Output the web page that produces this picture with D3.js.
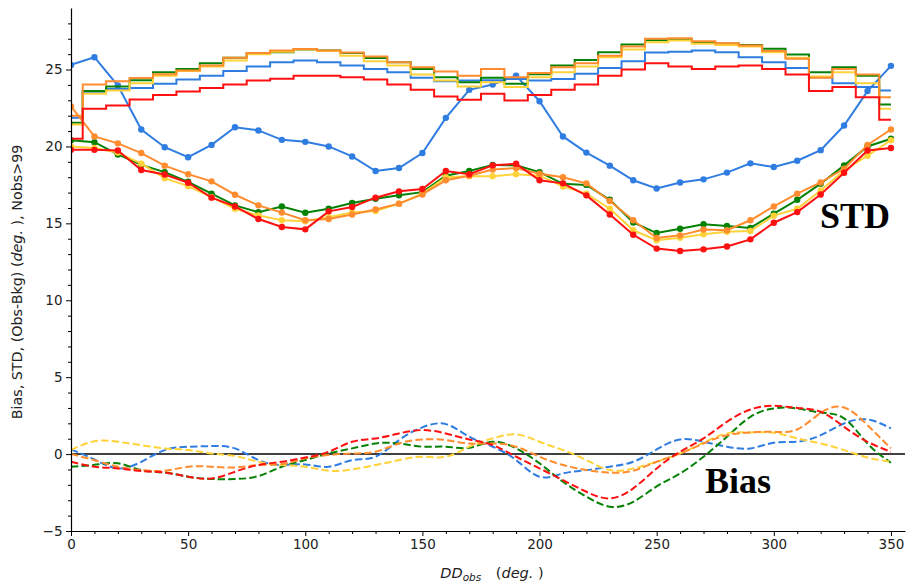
<!DOCTYPE html>
<html>
<head>
<meta charset="utf-8">
<script src="https://cdn.jsdelivr.net/npm/d3@7"></script>
<style>
  html, body { margin: 0; padding: 0; background: #fff; }
</style>
</head>
<body>
<script>
// ---------------- data ----------------
const directions = [0,10,20,30,40,50,60,70,80,90,100,110,120,130,140,150,160,170,180,190,200,210,220,230,240,250,260,270,280,290,300,310,320,330,340,350];

const seriesNames = ["blue", "green", "yellow", "orange", "red"];
const seriesColors = ["#2f7de1", "#058205", "#ffd23a", "#ff8c2e", "#ff1010"];

// STD (line with markers)
const stdBlue   = [25.3,25.8,23.96,21.1,19.95,19.3,20.1,21.25,21.04,20.43,20.3,20.0,19.35,18.4,18.6,19.57,21.86,23.68,24.03,24.6,22.94,20.65,19.6,18.75,17.8,17.27,17.66,17.86,18.3,18.9,18.66,19.07,19.76,21.36,23.6,25.24];
const stdGreen  = [20.4,20.28,19.48,18.8,18.33,17.7,16.93,16.17,15.73,16.1,15.69,15.95,16.32,16.6,16.82,17.03,18.1,18.4,18.8,18.77,18.33,17.57,17.5,16.53,15.06,14.37,14.65,14.94,14.83,14.7,15.63,16.53,17.58,18.77,20.0,20.5];
const stdYellow = [20.0,19.9,19.6,18.88,17.94,17.42,16.7,15.95,15.52,15.2,15.13,15.4,15.7,15.8,16.28,16.93,18.0,18.07,18.07,18.2,18.1,17.4,16.93,15.95,14.55,13.9,14.07,14.29,14.45,14.5,15.5,15.95,17.14,18.44,19.4,20.4];
const stdOrange = [22.6,20.65,20.2,19.57,18.75,18.2,17.73,16.86,16.17,15.7,15.2,15.28,15.58,15.9,16.28,16.88,17.8,18.1,18.5,18.6,18.22,18.0,17.6,16.45,15.2,14.05,14.22,14.6,14.55,15.2,16.1,16.93,17.66,18.55,20.1,21.1];
const stdRed    = [19.78,19.78,19.74,18.47,18.18,17.64,16.67,16.1,15.28,14.76,14.61,15.78,16.06,16.67,17.08,17.23,18.4,18.2,18.77,18.87,17.8,17.6,16.82,15.58,14.26,13.36,13.2,13.31,13.5,13.96,15.04,15.73,16.88,18.29,19.74,19.9];

// Nobs (scaled, step lines)
const nobsBlue   = [21.86,23.55,23.74,23.8,24.07,24.35,24.6,24.9,25.2,25.47,25.58,25.47,25.26,25.04,24.82,24.46,24.24,24.29,24.3,24.39,24.29,24.39,24.72,25.1,25.54,26.1,26.15,26.23,26.13,25.8,25.47,25.1,24.5,24.11,23.86,23.64];
const nobsGreen  = [21.54,23.6,23.9,24.3,24.82,25.04,25.41,25.76,26.08,26.13,26.3,26.23,26.07,25.75,25.47,25.04,24.5,24.18,24.46,24.07,24.7,25.26,25.62,26.13,26.62,26.9,26.97,26.77,26.7,26.6,26.35,25.97,24.83,25.15,24.6,22.73];
const nobsYellow = [21.43,23.42,23.64,24.1,24.6,24.9,25.2,25.58,26.0,26.15,26.3,26.2,25.9,25.54,25.26,24.68,24.29,23.9,24.18,23.86,24.5,24.82,25.2,25.8,26.3,26.77,26.88,26.67,26.6,26.49,26.13,25.76,24.55,24.83,24.11,22.45];
const nobsOrange = [22.0,24.03,24.24,24.45,24.7,24.94,25.26,25.76,26.08,26.23,26.34,26.23,26.1,25.84,25.47,25.15,24.87,24.6,25.04,24.5,24.77,25.15,25.41,25.9,26.5,27.0,27.03,26.84,26.71,26.56,26.2,25.7,24.46,25.04,24.68,23.2];
const nobsRed    = [20.5,22.45,22.66,23.05,23.35,23.57,23.8,24.03,24.29,24.4,24.6,24.6,24.5,24.35,24.03,23.68,23.25,23.03,23.42,22.98,23.35,23.68,24.03,24.6,25.0,25.41,25.2,25.04,25.2,25.26,25.04,24.68,23.6,23.86,23.2,21.73];

// Bias (dashed, smooth)
const biasBlue   = [0.3,-0.35,-0.93,-0.5,0.26,0.48,0.52,0.37,-0.39,-0.71,-0.67,-0.82,-0.39,-0.17,0.91,1.74,1.95,1.13,0.48,-0.39,-1.47,-1.26,-1.04,-0.82,-0.5,0.3,0.95,0.8,0.48,0.37,0.74,0.8,1.23,1.99,2.25,1.67];
const biasGreen  = [-0.82,-0.7,-0.6,-1.04,-1.2,-1.47,-1.62,-1.62,-1.43,-0.82,-0.39,0.04,0.37,0.69,0.69,0.48,0.48,0.41,0.8,0.37,-0.6,-1.8,-2.77,-3.42,-3.1,-2.1,-1.26,-0.17,1.13,2.42,2.97,2.97,2.7,2.32,0.69,-0.56];
const biasYellow = [0.26,0.84,0.8,0.58,0.37,0.26,0.04,-0.13,-0.5,-0.71,-0.82,-1.08,-1.0,-0.71,-0.39,-0.17,-0.17,0.48,1.02,1.28,0.8,0.26,-0.39,-1.04,-0.93,-0.5,0.04,0.74,1.34,1.41,1.39,1.02,0.69,0.26,-0.22,-0.5];
const biasOrange = [0.0,-0.4,-0.82,-1.04,-1.08,-0.82,-0.82,-0.87,-0.71,-0.65,-0.28,-0.06,0.04,0.15,0.69,0.95,0.91,0.69,0.69,0.48,-0.17,-0.71,-1.04,-1.21,-1.08,-0.5,0.04,0.69,1.23,1.41,1.45,1.6,2.68,3.03,1.88,0.37];
const biasRed    = [-0.5,-0.82,-0.93,-1.1,-1.2,-1.47,-1.58,-1.15,-0.71,-0.5,-0.22,0.15,0.8,1.02,1.34,1.56,1.34,0.95,0.58,-0.17,-0.93,-1.69,-2.45,-2.88,-2.23,-0.93,0.15,1.02,2.1,2.9,3.14,3.0,2.75,1.77,0.8,0.15];

const xTicks = [0,50,100,150,200,250,300,350];
const yTicks = [-5,0,5,10,15,20,25];

// ---------------- chart ----------------
const W = 906, H = 584;
const SANS = "'DejaVu Sans', sans-serif";
const SERIF = "'Liberation Serif', 'Times New Roman', serif";
const svg = d3.select("body").append("svg").attr("width", W).attr("height", H);

const x = d3.scaleLinear().domain([0, 356]).range([71, 905]);
const y = d3.scaleLinear().domain([-5, 29]).range([531, 8]);

svg.append("defs").append("clipPath").attr("id", "clip")
  .append("rect").attr("x", 71).attr("y", 8).attr("width", 834).attr("height", 523);

const plot = svg.append("g").attr("clip-path", "url(#clip)");

// zero line
plot.append("line")
  .attr("x1", x(0)).attr("x2", x(356))
  .attr("y1", y(0)).attr("y2", y(0))
  .attr("stroke", "#000").attr("stroke-width", 1.5);

const stds = [stdBlue, stdGreen, stdYellow, stdOrange, stdRed];
const nobs = [nobsBlue, nobsGreen, nobsYellow, nobsOrange, nobsRed];
const biases = [biasBlue, biasGreen, biasYellow, biasOrange, biasRed];

const stepLine = d3.line().x((d, i) => x(directions[i])).y(d => y(d)).curve(d3.curveStep);
const lin = d3.line().x((d, i) => x(directions[i])).y(d => y(d));
const smooth = d3.line().x((d, i) => x(directions[i])).y(d => y(d)).curve(d3.curveNatural);

seriesNames.forEach((name, k) => {
  const c = seriesColors[k];
  const g = plot.append("g").attr("class", "series-" + name);
  g.append("path").datum(nobs[k]).attr("d", stepLine)
    .attr("fill", "none").attr("stroke", c).attr("stroke-width", 2);
  g.append("path").datum(stds[k]).attr("d", lin)
    .attr("fill", "none").attr("stroke", c).attr("stroke-width", 2);
  g.selectAll("circle").data(stds[k]).join("circle")
    .attr("cx", (d, i) => x(directions[i])).attr("cy", d => y(d))
    .attr("r", 3.2).attr("fill", c);
  g.append("path").datum(biases[k]).attr("d", smooth)
    .attr("fill", "none").attr("stroke", c).attr("stroke-width", 2)
    .attr("stroke-dasharray", "7.4,3.2");
});

// axes
const fmt = d => d < 0 ? "\u2212" + Math.abs(d) : String(d);
svg.append("g").attr("transform", "translate(71,0)")
  .call(d3.axisLeft(y).tickValues(yTicks).tickFormat(fmt).tickSize(5).tickPadding(3.5).tickSizeOuter(0));
svg.append("g").attr("transform", "translate(71,0)")
  .call(d3.axisLeft(y).tickValues(d3.range(-5, 29, 1).filter(v => v % 5 !== 0)).tickFormat("").tickSize(3).tickSizeOuter(0))
  .select(".domain").remove();
svg.append("g").attr("transform", "translate(0,531)")
  .call(d3.axisBottom(x).tickValues(xTicks).tickFormat(fmt).tickSize(5).tickPadding(3.5).tickSizeOuter(0));
svg.append("g").attr("transform", "translate(0,531)")
  .call(d3.axisBottom(x).tickValues(d3.range(0, 356, 10).filter(v => v % 50 !== 0)).tickFormat("").tickSize(3).tickSizeOuter(0))
  .select(".domain").remove();

svg.selectAll(".domain").attr("stroke", "#000").attr("stroke-width", 1.2);
svg.selectAll(".tick line").attr("stroke", "#000").attr("stroke-width", 1);
svg.selectAll(".tick text").style("font-family", SANS).style("font-size", "13.5px").attr("fill", "#222");

// y label
const yl = svg.append("text")
  .attr("transform", "translate(22,282) rotate(-90)")
  .attr("text-anchor", "middle").style("font-family", SANS).style("font-size", "14.3px").attr("fill", "#222");
yl.append("tspan").text("Bias, STD, (Obs-Bkg) (");
yl.append("tspan").attr("font-style", "italic").text("deg.");
yl.append("tspan").text(" ), Nobs>99");

// x label
const xl = svg.append("text")
  .attr("x", 492).attr("y", 578)
  .attr("text-anchor", "middle").style("font-family", SANS).style("font-size", "14.5px").attr("fill", "#222");
xl.append("tspan").attr("font-style", "italic").text("DD");
xl.append("tspan").attr("font-style", "italic").style("font-size", "10.5px").attr("dy", 3).text("obs");
xl.append("tspan").attr("dy", -3).text("\u2003(");
xl.append("tspan").attr("font-style", "italic").text("deg.");
xl.append("tspan").text(" )");

// annotations
svg.append("text").attr("x", 820).attr("y", 228)
  .style("font-family", SERIF).style("font-weight", "bold")
  .style("font-size", "36px").attr("fill", "#000").text("STD");
svg.append("text").attr("x", 705).attr("y", 493)
  .style("font-family", SERIF).style("font-weight", "bold")
  .style("font-size", "36px").attr("fill", "#000").text("Bias");
</script>
</body>
</html>
